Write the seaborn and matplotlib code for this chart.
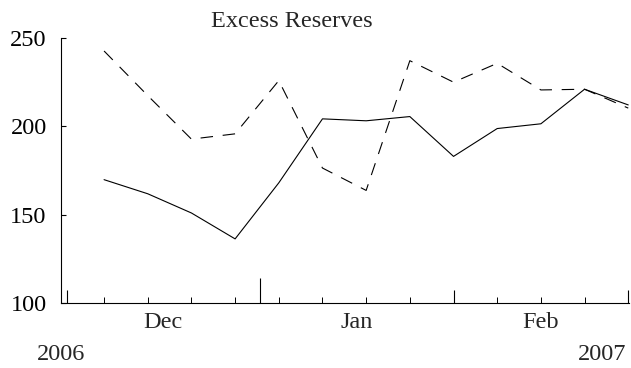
import matplotlib
matplotlib.use("Agg")
import matplotlib.pyplot as plt
import matplotlib.dates as mdates
import seaborn as sns
import pandas as pd

# Weekly observations (Thursdays)
dates = ["2006-12-07", "2006-12-14", "2006-12-21", "2006-12-28",
         "2007-01-04", "2007-01-11", "2007-01-18", "2007-01-25",
         "2007-02-01", "2007-02-08", "2007-02-15", "2007-02-22",
         "2007-03-01"]
reserves_solid = [169.8, 161.8, 150.9, 136.2, 168.0, 204.3, 203.2, 205.6,
                  183.0, 198.8, 201.5, 221.1, 212.2]
reserves_dashed = [242.8, 217.5, 192.8, 195.8, 226.0, 176.4, 163.7, 237.3,
                   225.1, 235.8, 220.7, 221.1, 210.4]

month_starts = ["2006-12-01", "2007-01-01", "2007-02-01", "2007-03-01"]
month_labels = ["Dec", "Jan", "Feb"]
month_mids = ["2006-12-16 12:00", "2007-01-16 12:00", "2007-02-15"]
year_labels = ["2006", "2007"]
y_ticks = [100, 150, 200, 250]

sns.set_style("ticks")
plt.rcParams["font.family"] = ["Liberation Serif", "DejaVu Serif"]
plt.rcParams["lines.scale_dashes"] = False

df = pd.DataFrame({
    "date": pd.to_datetime(dates),
    "solid": reserves_solid,
    "dashed": reserves_dashed,
})

fig = plt.figure(figsize=(6.31, 3.68), dpi=100)
ax = fig.add_axes([61 / 631, 1 - 302.7 / 368, 568 / 631, 264.4 / 368])

sns.lineplot(data=df, x="date", y="solid", color="black", linewidth=0.8, ax=ax)
sns.lineplot(data=df, x="date", y="dashed", color="black", linewidth=0.8,
             linestyle=(0, (9, 7)), ax=ax)

x0 = pd.Timestamp("2006-12-01") - pd.Timedelta(days=0.9)
x1 = pd.Timestamp("2007-03-01") + pd.Timedelta(days=0.12)
ax.set_xlim(mdates.date2num(x0), mdates.date2num(x1))
ax.set_ylim(100, 250)

ax.set_xlabel("")
ax.set_ylabel("")
for side in ("top", "right"):
    ax.spines[side].set_visible(False)
for side in ("left", "bottom"):
    ax.spines[side].set_linewidth(0.8)
    ax.spines[side].set_color("black")

# y axis
ax.set_yticks(y_ticks)
ax.set_yticklabels([str(v) for v in y_ticks])
ax.tick_params(axis="y", direction="in", length=3.5, width=0.8, pad=10.3,
               labelsize=17.5, colors="black")

# x axis: month ticks (major), weekly ticks (minor), taller year boundary
major = [mdates.date2num(pd.Timestamp(d)) for d in month_starts]
minor = [mdates.date2num(pd.Timestamp(d)) for d in dates
         if d not in month_starts]
ax.set_xticks(major)
ax.set_xticks(minor, minor=True)
ax.set_xticklabels([])
ax.tick_params(axis="x", which="major", direction="in", length=9.5,
               width=0.8, colors="black")
ax.tick_params(axis="x", which="minor", direction="in", length=4.3,
               width=0.7, colors="black")
for tick, d in zip(ax.xaxis.get_major_ticks(), month_starts):
    if d.endswith("01-01"):
        tick.tick1line.set_markersize(18)

xt = ax.get_xaxis_transform()
for lab, mid in zip(month_labels, month_mids):
    ax.text(mdates.date2num(pd.Timestamp(mid)), -0.0968, lab, transform=xt,
            ha="center", va="baseline", fontsize=17.5)
ax.text(ax.get_xlim()[0], -0.2167, year_labels[0], transform=xt,
        ha="center", va="baseline", fontsize=17.5, clip_on=False)
ax.text(ax.get_xlim()[1] - 0.35, -0.2167, year_labels[1], transform=xt,
        ha="right", va="baseline", fontsize=17.5, clip_on=False)

fig.text(291.5 / 631, 1 - 26.7 / 368, "Excess Reserves", ha="center",
         va="baseline", fontsize=17.5)

fig.savefig("out.png", dpi=100)
